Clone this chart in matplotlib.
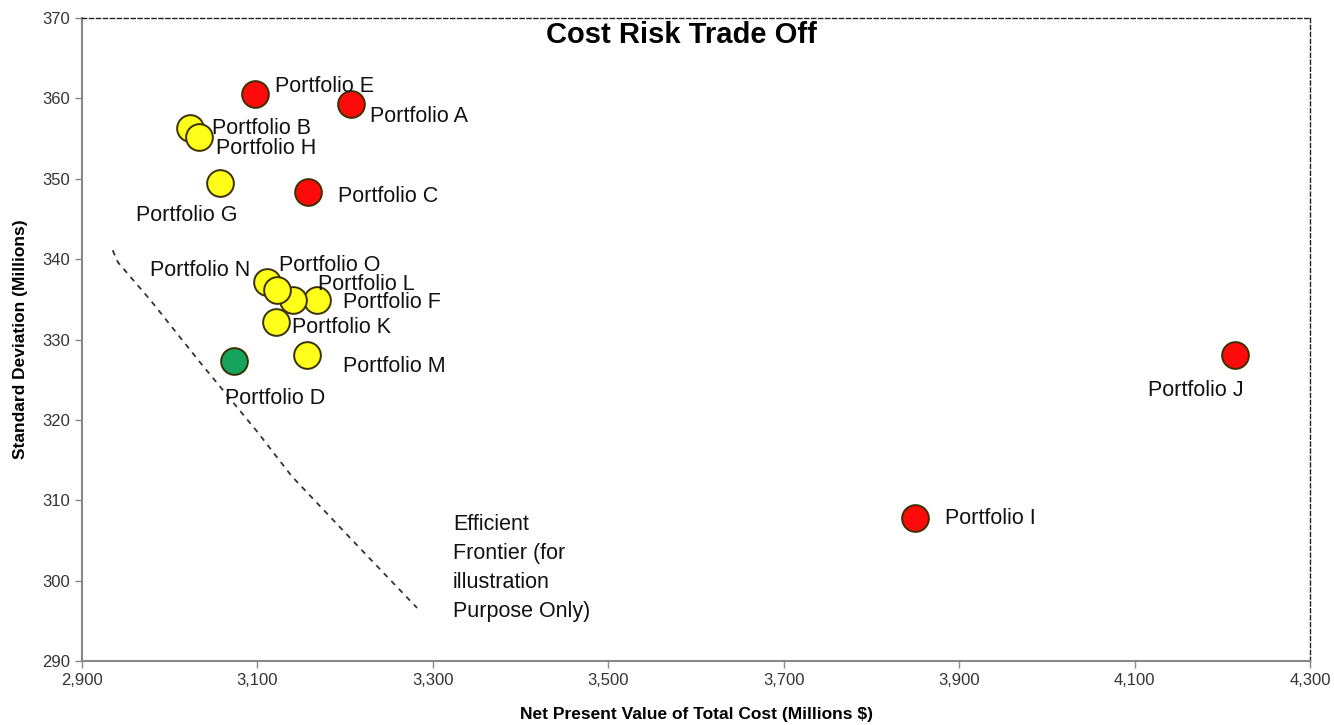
import numpy as np
import matplotlib.pyplot as plt

# portfolio data
names = ['A', 'B', 'C', 'D', 'E', 'F', 'G', 'H', 'I', 'J', 'K', 'L', 'M', 'N', 'O']
npv = [3207, 3023, 3158, 3073, 3097, 3168, 3057, 3033, 3850, 4215, 3121, 3141, 3157, 3111, 3122]
stdev = [359.3, 356.3, 348.4, 327.3, 360.5, 334.9, 349.5, 355.2, 307.8, 328.1, 332.2, 334.9, 328.1, 337.2, 336.2]
group = ['red', 'yellow', 'red', 'green', 'red', 'yellow', 'yellow', 'yellow', 'red', 'red',
         'yellow', 'yellow', 'yellow', 'yellow', 'yellow']

# efficient frontier (illustration only)
front_x = [2935, 2941, 2978, 3035, 3100, 3139, 3211, 3282]
front_y = [341.1, 339.6, 334.9, 327.1, 318.5, 313.0, 304.7, 296.6]

xticks = [2900, 3100, 3300, 3500, 3700, 3900, 4100, 4300]
yticks = [290, 300, 310, 320, 330, 340, 350, 360, 370]

colors = {'red': '#ff0a0a', 'yellow': '#ffff1a', 'green': '#16a35e'}

# label offsets in pixels (dx, dy, ha)
offsets = {
    'A': (19, -12, 'left'), 'B': (22, 0, 'left'), 'C': (30, -5, 'left'),
    'D': (-9, -37, 'left'), 'E': (20, 8, 'left'), 'F': (26, -2, 'left'),
    'G': (-84, -33, 'left'), 'H': (17, -12, 'left'), 'I': (30, -1, 'left'),
    'J': (-87, -36, 'left'), 'K': (16, -6, 'left'), 'L': (25, 16, 'left'),
    'M': (36, -12, 'left'), 'N': (-17, 11, 'right'), 'O': (2, 24, 'left'),
}

plt.rcParams['font.family'] = ['Liberation Sans', 'DejaVu Sans']

fig = plt.figure(figsize=(13.34, 7.25), dpi=100)
ax = fig.add_axes([82/1334, 1-661/725, (1310-82)/1334, (661-18)/725])

ax.plot(front_x, front_y, color='#333333', linestyle=(0, (3, 3)), linewidth=1.3, zorder=2)

for n, x, y, g in zip(names, npv, stdev, group):
    ax.scatter(x, y, s=370, color=colors[g], edgecolor='#3a3000', linewidth=1.4, zorder=3)

# labels on top of markers
for n, x, y in zip(names, npv, stdev):
    dx, dy, ha = offsets[n]
    ax.annotate('Portfolio ' + n, (x, y), xytext=(dx, dy), textcoords='offset pixels',
                ha=ha, va='center', fontsize=15.5, color='#111111', zorder=4)

ax.text(3323, 301.6, 'Efficient\nFrontier (for\nillustration\nPurpose Only)', fontsize=15.5,
        color='#111111', ha='left', va='center', linespacing=1.5)

ax.text(3583, 367.9, 'Cost Risk Trade Off', fontsize=21, fontweight='bold',
        ha='center', va='center')

ax.set_xlim(2900, 4300)
ax.set_ylim(290, 370)
ax.set_xticks(xticks)
ax.set_xticklabels(['{:,}'.format(v) for v in xticks])
ax.set_yticks(yticks)
ax.tick_params(axis='both', direction='out', length=5, width=1, color='#888888',
               labelsize=12, labelcolor='#333333')

ax.set_xlabel('Net Present Value of Total Cost (Millions $)', fontsize=12.5, fontweight='bold',
              labelpad=14)
ax.set_ylabel('Standard Deviation (Millions)', fontsize=12.5, fontweight='bold',
              labelpad=10)

for s in ['left', 'bottom']:
    ax.spines[s].set_color('#888888')
    ax.spines[s].set_linewidth(1.5)
for s in ['top', 'right']:
    ax.spines[s].set_color('#222222')
    ax.spines[s].set_linewidth(1)
    ax.spines[s].set_linestyle((0, (3, 2)))

fig.savefig('out.png', dpi=100)
